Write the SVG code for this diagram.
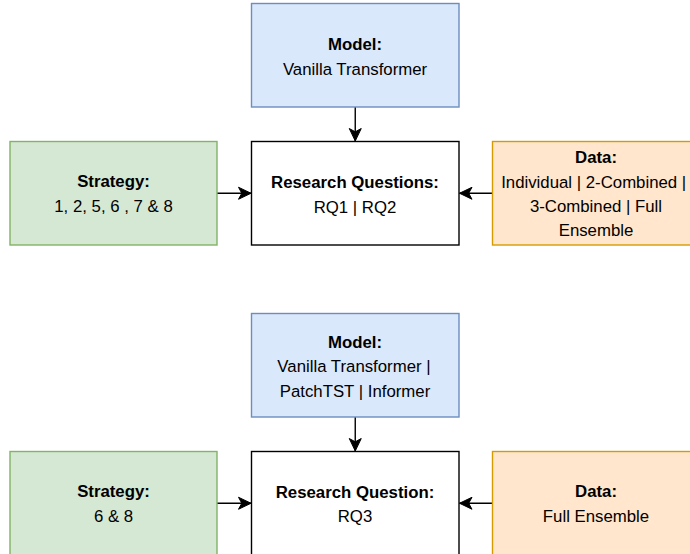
<svg xmlns="http://www.w3.org/2000/svg" width="690" height="554" viewBox="0 0 690 554">
<style>
text{font-family:"Liberation Sans",Arial,sans-serif;font-size:16.8px;fill:#000;text-anchor:middle}
.b{font-weight:bold}
.model{fill:#dae8fc;stroke:#6c8ebf;stroke-width:1.4}
.strat{fill:#d5e8d4;stroke:#82b366;stroke-width:1.4}
.data{fill:#ffe6cc;stroke:#d79b00;stroke-width:1.4}
.rq{fill:#fff;stroke:#000;stroke-width:1.4}
.edge{fill:none;stroke:#000;stroke-width:1.4}
</style>
<defs>
<marker id="arr" viewBox="0 0 14 14" refX="13" refY="7" markerWidth="14" markerHeight="14" markerUnits="userSpaceOnUse" orient="auto">
<path d="M13,7 L0.5,1 L3.8,7 L0.5,13 Z" fill="#000" stroke="#000" stroke-width="1"/>
</marker>
</defs>
<rect width="690" height="554" fill="#fff"/>
<g id="connectors">
<path class="edge" d="M355.25,107 L355.25,141" marker-end="url(#arr)"/>
<path class="edge" d="M217,193.25 L251,193.25" marker-end="url(#arr)"/>
<path class="edge" d="M492.5,193.25 L459.5,193.25" marker-end="url(#arr)"/>
<path class="edge" d="M355.25,417 L355.25,451" marker-end="url(#arr)"/>
<path class="edge" d="M217,503.25 L251,503.25" marker-end="url(#arr)"/>
<path class="edge" d="M492.5,503.25 L459.5,503.25" marker-end="url(#arr)"/>
</g>
<g id="model1">
<rect class="model" x="251.5" y="3.5" width="207.5" height="103.5"/>
<text class="b" x="355" y="50">Model:</text>
<text x="355" y="75">Vanilla Transformer</text>
</g>
<g id="rq1">
<rect class="rq" x="251.5" y="141.5" width="207.5" height="103.5"/>
<text class="b" x="355" y="187.5">Research Questions:</text>
<text x="355" y="213">RQ1 | RQ2</text>
</g>
<g id="strategy1">
<rect class="strat" x="10" y="141.5" width="207" height="103.5"/>
<text class="b" x="113.5" y="186.7">Strategy:</text>
<text x="113.5" y="211.7">1, 2, 5, 6 , 7 &amp; 8</text>
</g>
<g id="data1">
<rect class="data" x="492.5" y="141.5" width="207" height="103.5"/>
<text class="b" x="596" y="163.3">Data:</text>
<text x="593.7" y="187.5">Individual | 2-Combined |</text>
<text x="596" y="212">3-Combined | Full</text>
<text x="596" y="236.2">Ensemble</text>
</g>
<g id="model2">
<rect class="model" x="251.5" y="313.5" width="207.5" height="103.5"/>
<text class="b" x="355" y="348.3">Model:</text>
<text x="354" y="372.2">Vanilla Transformer |</text>
<text x="355" y="396.6">PatchTST | Informer</text>
</g>
<g id="rq2">
<rect class="rq" x="251.5" y="451.5" width="207.5" height="103.5"/>
<text class="b" x="355" y="497.8">Research Question:</text>
<text x="355" y="522.3">RQ3</text>
</g>
<g id="strategy2">
<rect class="strat" x="10" y="451.5" width="207" height="103.5"/>
<text class="b" x="113.5" y="496.7">Strategy:</text>
<text x="113.5" y="521.7">6 &amp; 8</text>
</g>
<g id="data2">
<rect class="data" x="492.5" y="451.5" width="207" height="103.5"/>
<text class="b" x="596" y="496.7">Data:</text>
<text x="596" y="521.7">Full Ensemble</text>
</g>
</svg>
